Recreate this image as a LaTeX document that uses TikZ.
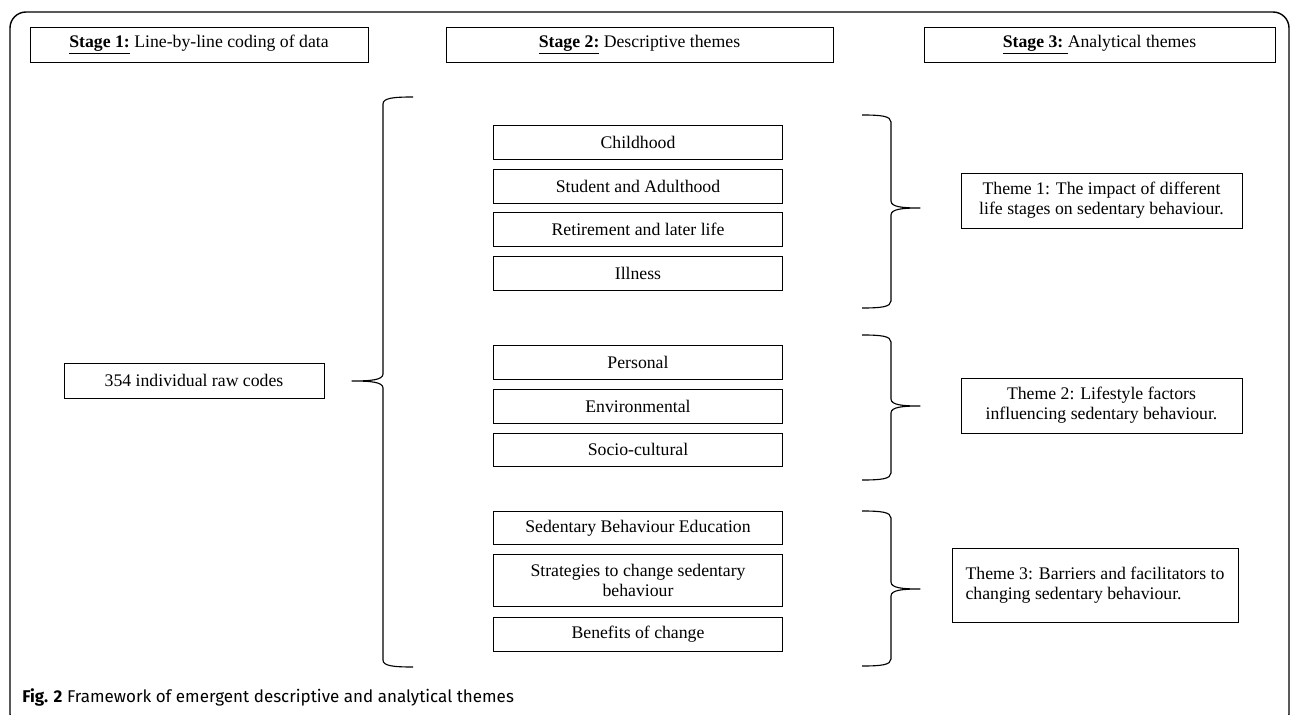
\documentclass[tikz,border=0pt]{standalone}
\usepackage{fontspec}
\setmainfont{Liberation Serif}
\newfontfamily\captionsans{Fira Sans}
\usepackage{tikz}
\usetikzlibrary{positioning}
\tikzstyle{BoxNode}=[rectangle, draw=black, line width=0.6pt, inner sep=0pt, align=center, font=\fontsize{12.6}{14.4}\selectfont]
\tikzstyle{HeaderNode}=[BoxNode, minimum height=0.875cm]
\tikzstyle{DescNode}=[BoxNode, minimum width=7.225cm, minimum height=0.845cm]
\tikzstyle{ResultNode}=[BoxNode, minimum width=7.025cm, minimum height=1.375cm]
\tikzstyle{BraceLine}=[line width=0.8pt, line join=round]
% #1 end x, #2 spine x, #3 tip x, #4 top y, #5 tip y, #6 bottom y
\newcommand{\DrawBrace}[6]{%
  \draw [BraceLine] (#1,#4) .. controls ({#2+0.35*(#1-#2)},#4) and (#2,{#4+1}) .. (#2,{#4+7})
    -- (#2,{#5-7}) .. controls (#2,{#5-1}) and ({#2+0.4*(#3-#2)},#5) .. (#3,#5)
    .. controls ({#2+0.4*(#3-#2)},#5) and (#2,{#5+1}) .. (#2,{#5+7})
    -- (#2,{#6-7}) .. controls (#2,{#6-1}) and ({#2+0.35*(#1-#2)},#6) .. (#1,#6);
}

\begin{document}
\begin{tikzpicture}[x=0.025cm, y=-0.025cm, node distance=0.225cm]

    \useasboundingbox (0,0) rectangle (1290,715);
    \draw [line width=1pt, rounded corners=0.4cm] (10,12) rectangle (1289,730);

    \node (StageOne) [HeaderNode, minimum width=8.45cm] at (199,44.5) {\underline{\textbf{Stage 1:}} Line-by-line coding of data};
    \node (StageTwo) [HeaderNode, minimum width=9.675cm] at (639.5,44.5) {\underline{\textbf{Stage 2:}} Descriptive themes};
    \node (StageThree) [HeaderNode, minimum width=8.775cm] at (1099.5,44.5) {\underline{\textbf{Stage 3:}\ }Analytical themes};

    \node (RawCodes) [BoxNode, minimum width=6.5cm, minimum height=0.875cm] at (194,380.5) {354 individual raw codes};

    \node (Childhood) [DescNode] at (638,142.5) {Childhood};
    \node (Student) [DescNode, below=of Childhood] {Student and Adulthood};
    \node (Retirement) [DescNode, below=of Student] {Retirement and later life};
    \node (Illness) [DescNode, below=of Retirement] {Illness};
    \node (Personal) [DescNode, below=1.36cm of Illness] {Personal};
    \node (Environmental) [DescNode, below=of Personal] {Environmental};
    \node (SocioCultural) [DescNode, below=of Environmental] {Socio-cultural};
    \node (Education) [DescNode, below=1.085cm of SocioCultural] {Sedentary Behaviour Education};
    \node (Strategies) [DescNode, minimum height=1.3cm, below=0.22cm of Education] {Strategies to change sedentary\\ behaviour};
    \node (Benefits) [DescNode, below=0.255cm of Strategies] {Benefits of change};

    \node (ThemeOne) [ResultNode] at (1101.5,200.5) {Theme 1: The impact of different\\ life stages on sedentary behaviour.};
    \node (ThemeTwo) [ResultNode] at (1101.5,405.5) {Theme 2: Lifestyle factors\\ influencing sedentary behaviour.};
    \node (ThemeThree) [ResultNode, align=left, minimum width=7.15cm, minimum height=1.85cm] at (1095,585) {Theme 3: Barriers and facilitators to\\ changing sedentary behaviour.};

    \DrawBrace{413}{383}{352}{97}{381}{667}
    \DrawBrace{862}{891}{920}{115}{208}{308}
    \DrawBrace{862}{891}{920}{335}{406}{480}
    \DrawBrace{862}{891}{920}{511}{589}{666}

    \node (Caption) [anchor=base west, inner sep=0pt, font=\captionsans\fontsize{12.1}{14}\selectfont] at (22,702) {\textbf{Fig. 2} Framework of emergent descriptive and analytical themes};

\end{tikzpicture}
\end{document}
